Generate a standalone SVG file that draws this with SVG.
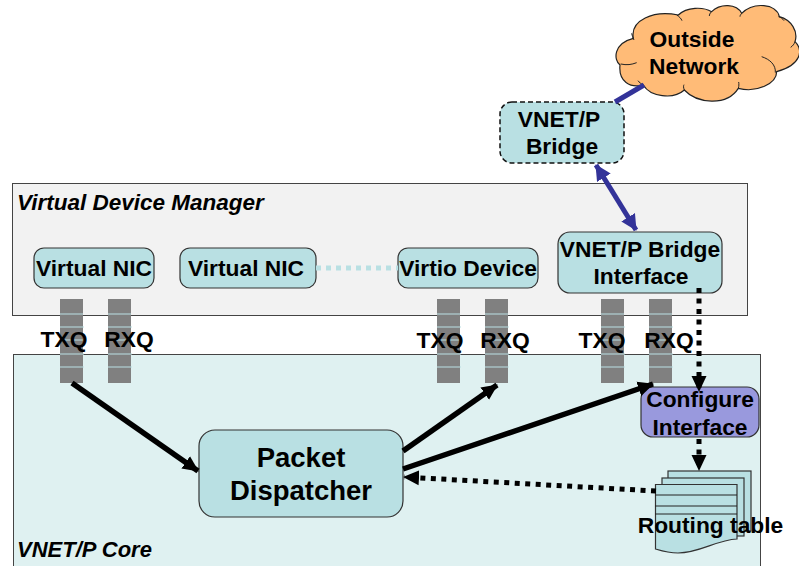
<svg xmlns="http://www.w3.org/2000/svg" width="799" height="566" viewBox="0 0 799 566">
<style>
text{font-family:"Liberation Sans",Arial,sans-serif;font-weight:bold;fill:#000;text-anchor:middle}
.n{fill:#b9e0e3;stroke:#333;stroke-width:1.2}
.lb{font-size:22.800px}
.q{fill:#808080}
.ql{stroke:#b9e0e3;stroke-width:1.2}
.c{fill:none;stroke:#000;stroke-width:5.500}
.d{fill:none;stroke:#000;stroke-width:5;stroke-dasharray:5 5.5}
.b{fill:none;stroke:#333399;stroke-width:5}
</style>
<defs>
<marker id="a" markerUnits="userSpaceOnUse" markerWidth="20" markerHeight="18" refX="15" refY="9" orient="auto"><path d="M0 1.500L16 9L0 16.500z" fill="#000"/></marker>
<marker id="bl" markerUnits="userSpaceOnUse" markerWidth="18" markerHeight="16" refX="15" refY="8" orient="auto-start-reverse"><path d="M0 0L16 8L0 16z" fill="#333399"/></marker>
<g id="queue">
<rect class="q" x="0" y="0" width="23" height="84"/>
<path class="ql" d="M0 15H23M0 28H24M0 41H24M0 55H24M0 68H24"/>
</g>
</defs>

<g id="virtual-device-manager">
<rect x="12.500" y="183.500" width="735" height="132" fill="#f2f2f2" stroke="#444" stroke-width="1"/>
<text x="17" y="210" style="text-anchor:start;font-style:italic" font-size="22.500">Virtual Device Manager</text>
</g>
<g id="vnet-core">
<rect x="13.500" y="354.500" width="747" height="230" fill="#dff1f1" stroke="#444" stroke-width="1"/>
<text x="17" y="557" style="text-anchor:start;font-style:italic" font-size="22">VNET/P Core</text>
</g>

<g id="queues">
<use href="#queue" x="60" y="299"/><use href="#queue" x="108" y="299"/>
<use href="#queue" x="437" y="299"/><use href="#queue" x="485" y="299"/>
<use href="#queue" x="601" y="299"/><use href="#queue" x="649" y="299"/>
</g>

<g id="outside-network">
<g transform="translate(490 0) scale(.33333)">
<path d="M460 255C420 265 385 245 390 195C370 180 370 130 430 115C420 60 490 30 565 45C590 20 640 20 665 35C690 10 740 10 755 40C790 5 860 10 868 50C905 60 925 95 915 125C940 150 935 195 860 215C860 250 800 280 745 265C710 320 620 310 583 270C550 300 480 290 460 255Z" fill="#ffbb77" stroke="#222" stroke-width="3.600"/>
<path d="M392 192C410 196 425 194 440 188M425 100C427 108 428 112 432 120M560 45C568 50 573 55 576 62M664 35C660 40 658 44 658 48M755 40C752 44 750 46 750 50M866 50C872 52 878 56 882 62M915 125C913 132 908 138 902 142M815 170C840 178 858 195 856 218M745 265C747 258 747 252 746 246M583 270C580 262 580 258 582 254M460 255C452 250 448 248 444 242" fill="none" stroke="#222" stroke-width="3"/>
</g>
<text class="lb" x="692" y="47">Outside</text>
<text class="lb" x="694" y="74">Network</text>
</g>

<g id="vnet-bridge">
<rect x="500" y="102" width="124" height="61" rx="12" fill="#b9e0e3" stroke="#111" stroke-width="1.500" stroke-dasharray="5 3"/>
<text class="lb" x="559" y="127">VNET/P</text>
<text class="lb" x="562" y="154">Bridge</text>
</g>

<g id="virtual-nic-1">
<rect class="n" x="34" y="248" width="120" height="40" rx="10"/>
<text class="lb" x="94" y="276">Virtual NIC</text>
</g>
<g id="virtual-nic-2">
<rect class="n" x="180" y="248" width="136" height="40" rx="10"/>
<text class="lb" x="246" y="276">Virtual NIC</text>
</g>
<g id="virtio-device">
<rect class="n" x="398" y="248" width="140" height="40" rx="10"/>
<text class="lb" x="468" y="276">Virtio Device</text>
</g>
<g id="vnet-bridge-interface">
<rect class="n" x="558" y="232" width="164" height="61" rx="12"/>
<text class="lb" x="640" y="257">VNET/P Bridge</text>
<text class="lb" x="641" y="284">Interface</text>
</g>

<g id="queue-labels">
<text class="lb" x="64" y="347">TXQ</text>
<text class="lb" x="129" y="347">RXQ</text>
<text class="lb" x="440" y="348">TXQ</text>
<text class="lb" x="505" y="348">RXQ</text>
<text class="lb" x="602" y="348">TXQ</text>
<text class="lb" x="669" y="348">RXQ</text>
</g>

<g id="packet-dispatcher">
<rect class="n" x="199" y="430" width="204" height="87" rx="16"/>
<text x="301" y="467" font-size="27.500">Packet</text>
<text x="301" y="500" font-size="27.500">Dispatcher</text>
</g>

<g id="configure-interface">
<rect x="641" y="387" width="118" height="50" rx="12" fill="#9999dd" stroke="#333" stroke-width="1.200"/>
<text class="lb" x="700" y="407">Configure</text>
<text class="lb" x="700" y="435">Interface</text>
</g>

<g id="routing-table">
<rect class="n" x="668" y="471" width="83" height="60" stroke-width="1"/>
<rect class="n" x="662" y="478" width="82" height="58" stroke-width="1"/>
<path class="n" stroke-width="1" d="M655.500 484.500H737V539C716 540 700 553 678 553C668 553 662 551 655.500 549Z"/>
<path d="M655 495H737M655 506H737M655 514H737" stroke="#222" stroke-width="1"/>
<text class="lb" x="710.500" y="533">Routing table</text>
</g>

<g id="connectors">
<path class="c" d="M72 383L198 471" marker-end="url(#a)"/>
<path class="c" d="M403 451L497 385" marker-end="url(#a)"/>
<path class="c" d="M403 469L653 384" marker-end="url(#a)"/>
<path class="d" d="M699 288V391" marker-end="url(#a)"/>
<path class="d" d="M699 439V470" marker-end="url(#a)"/>
<path class="d" d="M656 491L404 477" marker-end="url(#a)"/>
<path class="b" d="M615 102L644 85"/>
<path class="b" d="M596 165L636 230" marker-start="url(#bl)" marker-end="url(#bl)"/>
<path d="M316 268H398" fill="none" stroke="#b9e0e3" stroke-width="5" stroke-dasharray="5 5"/>
</g>
</svg>
